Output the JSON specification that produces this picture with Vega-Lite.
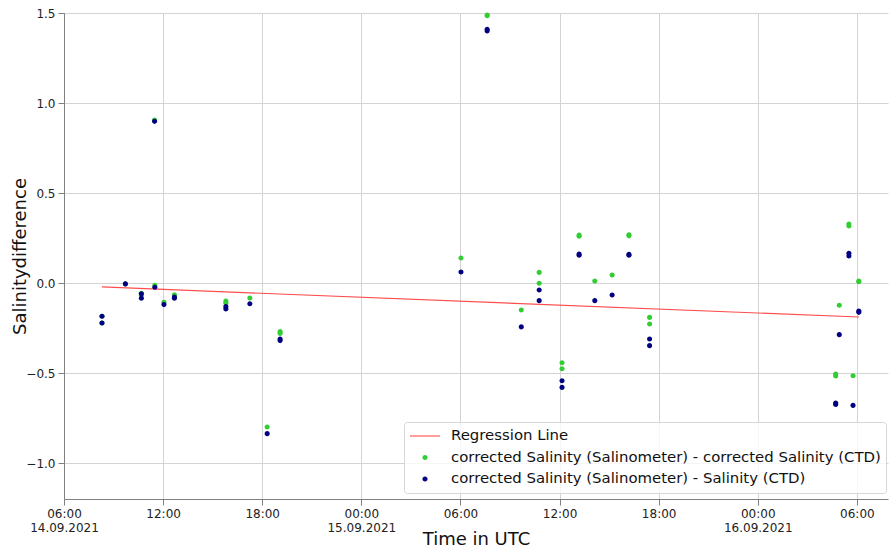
{
  "$schema": "https://vega.github.io/schema/vega-lite/v6.json",
  "width": 824,
  "height": 486,
  "autosize": {"type": "none"},
  "padding": {"left": 64, "top": 13, "right": 1, "bottom": 51},
  "background": "white",
  "config": {
    "font": "DejaVu Sans",
    "view": {"stroke": null},
    "axis": {
      "labelFont": "DejaVu Sans",
      "titleFont": "DejaVu Sans",
      "labelFontSize": 12,
      "labelColor": "#222",
      "titleFontSize": 18,
      "titleFontWeight": "normal",
      "titleColor": "#111",
      "gridColor": "#d3d3d3",
      "gridWidth": 1,
      "domainColor": "#808080",
      "tickColor": "#808080",
      "tickSize": 6,
      "labelPadding": 3
    }
  },
  "datasets": {
    "samples": [
      {"time": "2021-09-14T08:18:00", "dS_corrected": -0.185, "dS_raw": -0.185},
      {"time": "2021-09-14T08:18:00", "dS_corrected": -0.222, "dS_raw": -0.222},
      {"time": "2021-09-14T09:43:00", "dS_corrected": -0.005, "dS_raw": -0.005},
      {"time": "2021-09-14T10:41:00", "dS_corrected": -0.057, "dS_raw": -0.060},
      {"time": "2021-09-14T10:41:00", "dS_corrected": -0.070, "dS_raw": -0.085},
      {"time": "2021-09-14T11:29:00", "dS_corrected": 0.905, "dS_raw": 0.898},
      {"time": "2021-09-14T11:30:00", "dS_corrected": -0.013, "dS_raw": -0.024},
      {"time": "2021-09-14T12:03:00", "dS_corrected": -0.107, "dS_raw": -0.120},
      {"time": "2021-09-14T12:41:00", "dS_corrected": -0.065, "dS_raw": -0.078},
      {"time": "2021-09-14T12:41:00", "dS_corrected": -0.072, "dS_raw": -0.085},
      {"time": "2021-09-14T15:48:00", "dS_corrected": -0.100, "dS_raw": -0.131},
      {"time": "2021-09-14T15:48:00", "dS_corrected": -0.113, "dS_raw": -0.144},
      {"time": "2021-09-14T17:15:00", "dS_corrected": -0.083, "dS_raw": -0.115},
      {"time": "2021-09-14T18:18:00", "dS_corrected": -0.800, "dS_raw": -0.837},
      {"time": "2021-09-14T19:05:00", "dS_corrected": -0.270, "dS_raw": -0.311},
      {"time": "2021-09-14T19:05:00", "dS_corrected": -0.280, "dS_raw": -0.320},
      {"time": "2021-09-15T06:02:00", "dS_corrected": 0.139, "dS_raw": 0.061},
      {"time": "2021-09-15T07:37:00", "dS_corrected": 1.489, "dS_raw": 1.410},
      {"time": "2021-09-15T07:37:00", "dS_corrected": 1.485, "dS_raw": 1.400},
      {"time": "2021-09-15T09:41:00", "dS_corrected": -0.150, "dS_raw": -0.244},
      {"time": "2021-09-15T10:46:00", "dS_corrected": 0.059, "dS_raw": -0.039},
      {"time": "2021-09-15T10:46:00", "dS_corrected": -0.002, "dS_raw": -0.098},
      {"time": "2021-09-15T12:09:00", "dS_corrected": -0.443, "dS_raw": -0.543},
      {"time": "2021-09-15T12:09:00", "dS_corrected": -0.476, "dS_raw": -0.580},
      {"time": "2021-09-15T13:11:00", "dS_corrected": 0.267, "dS_raw": 0.161},
      {"time": "2021-09-15T13:11:00", "dS_corrected": 0.260, "dS_raw": 0.154},
      {"time": "2021-09-15T14:08:00", "dS_corrected": 0.011, "dS_raw": -0.098},
      {"time": "2021-09-15T15:11:00", "dS_corrected": 0.044, "dS_raw": -0.067},
      {"time": "2021-09-15T16:12:00", "dS_corrected": 0.268, "dS_raw": 0.159},
      {"time": "2021-09-15T16:12:00", "dS_corrected": 0.262, "dS_raw": 0.154},
      {"time": "2021-09-15T17:27:00", "dS_corrected": -0.191, "dS_raw": -0.311},
      {"time": "2021-09-15T17:27:00", "dS_corrected": -0.228, "dS_raw": -0.348},
      {"time": "2021-09-16T04:43:00", "dS_corrected": -0.506, "dS_raw": -0.667},
      {"time": "2021-09-16T04:43:00", "dS_corrected": -0.517, "dS_raw": -0.675},
      {"time": "2021-09-16T04:56:00", "dS_corrected": -0.124, "dS_raw": -0.287},
      {"time": "2021-09-16T05:31:00", "dS_corrected": 0.328, "dS_raw": 0.165},
      {"time": "2021-09-16T05:31:00", "dS_corrected": 0.317, "dS_raw": 0.150},
      {"time": "2021-09-16T05:46:00", "dS_corrected": -0.515, "dS_raw": -0.680},
      {"time": "2021-09-16T06:07:00", "dS_corrected": 0.011, "dS_raw": -0.156},
      {"time": "2021-09-16T06:07:00", "dS_corrected": 0.007, "dS_raw": -0.163}
    ],
    "regression": [
      {"time": "2021-09-14T08:18:00", "fit": -0.022},
      {"time": "2021-09-16T06:07:00", "fit": -0.189}
    ]
  },
  "layer": [
    {
      "data": {"name": "regression"},
      "mark": {"type": "line", "color": "#ff3b3b", "strokeWidth": 1.2, "opacity": 0.9},
      "encoding": {
        "x": {
          "field": "time",
          "type": "temporal",
          "scale": {
            "domain": [
              {"year": 2021, "month": 9, "date": 14, "hours": 6},
              {"year": 2021, "month": 9, "date": 16, "hours": 7, "minutes": 53}
            ]
          },
          "axis": {
            "title": "Time in UTC",
            "titlePadding": -3,
            "values": [
              {"year": 2021, "month": 9, "date": 14, "hours": 6},
              {"year": 2021, "month": 9, "date": 14, "hours": 12},
              {"year": 2021, "month": 9, "date": 14, "hours": 18},
              {"year": 2021, "month": 9, "date": 15, "hours": 0},
              {"year": 2021, "month": 9, "date": 15, "hours": 6},
              {"year": 2021, "month": 9, "date": 15, "hours": 12},
              {"year": 2021, "month": 9, "date": 15, "hours": 18},
              {"year": 2021, "month": 9, "date": 16, "hours": 0},
              {"year": 2021, "month": 9, "date": 16, "hours": 6}
            ],
            "labelExpr": "hours(datum.value) == 0 || (date(datum.value) == 14 && hours(datum.value) == 6) ? [timeFormat(datum.value, '%H:%M'), timeFormat(datum.value, '%d.%m.%Y')] : timeFormat(datum.value, '%H:%M')",
            "labelLineHeight": 14,
            "labelFlush": false,
            "labelOverlap": false
          }
        },
        "y": {
          "field": "fit",
          "type": "quantitative",
          "scale": {"domain": [-1.2, 1.5], "nice": false, "zero": false},
          "axis": {
            "title": "Salinitydifference",
            "titlePadding": -4,
            "values": [-1.0, -0.5, 0.0, 0.5, 1.0, 1.5],
            "format": ".1f"
          }
        }
      }
    },
    {
      "data": {"name": "samples"},
      "transform": [
        {"fold": ["dS_corrected", "dS_raw"], "as": ["series", "value"]}
      ],
      "mark": {"type": "point", "filled": true, "opacity": 1, "size": 900},
      "encoding": {
        "x": {"field": "time", "type": "temporal"},
        "y": {"field": "value", "type": "quantitative"},
        "order": {"field": "series"},
        "color": {
          "field": "series",
          "type": "nominal",
          "scale": {
            "domain": ["regression", "dS_corrected", "dS_raw"],
            "range": ["#ff3b3b", "#32cd32", "#000080"]
          },
          "legend": {
            "title": null,
            "orient": "none",
            "legendX": 340,
            "legendY": 409,
            "direction": "vertical",
            "labelExpr": "datum.value == 'regression' ? 'Regression Line' : datum.value == 'dS_corrected' ? 'corrected Salinity (Salinometer) - corrected Salinity (CTD)' : 'corrected Salinity (Salinometer) - Salinity (CTD)'",
            "labelFont": "DejaVu Sans",
            "labelFontSize": 14.9,
            "labelColor": "#111",
            "labelLimit": 600,
            "labelOffset": 10,
            "symbolSize": 900,
            "clipHeight": 18,
            "rowPadding": 3.5,
            "padding": 5,
            "fillColor": "rgba(255,255,255,0.8)",
            "strokeColor": "#d6d6d6",
            "cornerRadius": 3
          }
        },
        "shape": {
          "field": "series",
          "type": "nominal",
          "scale": {
            "domain": ["regression", "dS_corrected", "dS_raw"],
            "range": [
              "M-1,-0.035H1V0.035H-1Z",
              "M0.17,0A0.17,0.17,0,1,1,-0.17,0A0.17,0.17,0,1,1,0.17,0Z",
              "M0.17,0A0.17,0.17,0,1,1,-0.17,0A0.17,0.17,0,1,1,0.17,0Z"
            ]
          },
          "legend": null
        }
      }
    }
  ]
}
